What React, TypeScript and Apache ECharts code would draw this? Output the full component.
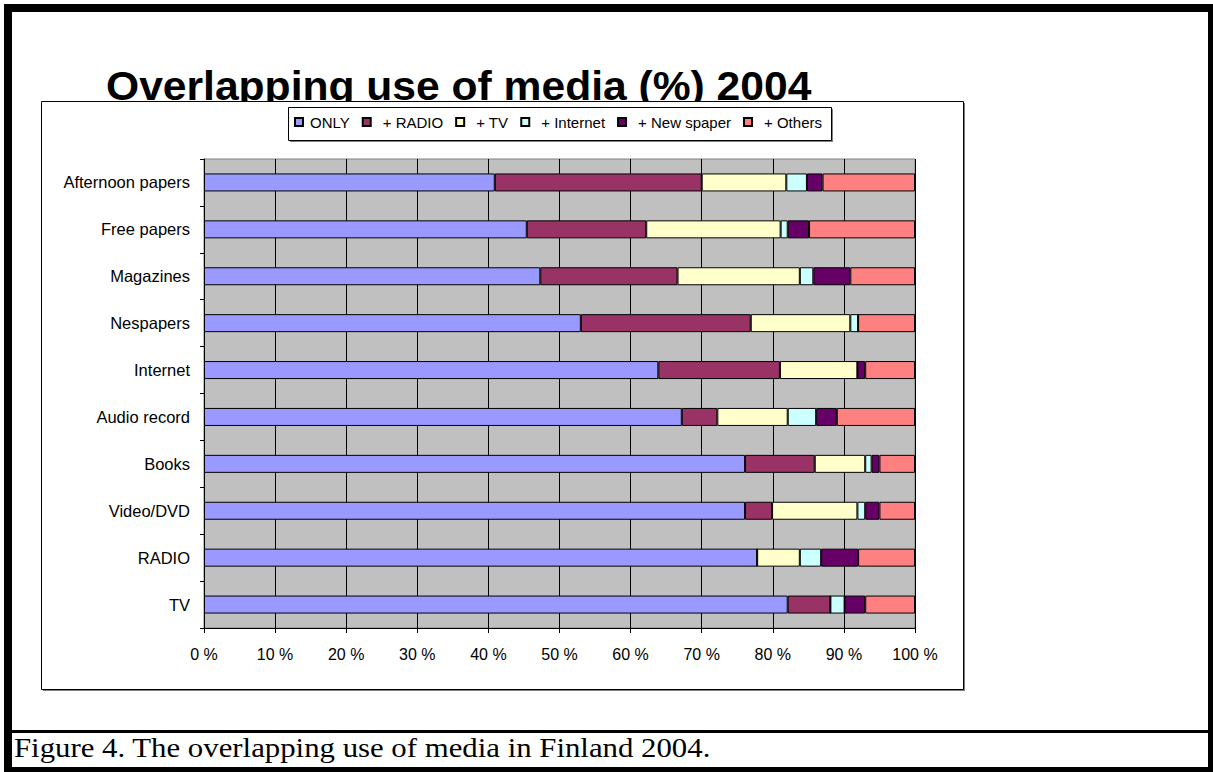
import React, { useEffect, useRef } from "react";
import * as echarts from "echarts";

const categories = [
  "Afternoon papers",
  "Free papers",
  "Magazines",
  "Nespapers",
  "Internet",
  "Audio record",
  "Books",
  "Video/DVD",
  "RADIO",
  "TV",
];
const seriesNames = ["ONLY", "+ RADIO", "+ TV", "+ Internet", "+ New spaper", "+ Others"];
const onlyValues = [40.9, 45.4, 47.3, 53.0, 63.9, 67.2, 76.1, 76.1, 77.8, 82.1];
const radioValues = [29.1, 16.8, 19.3, 23.9, 17.1, 5.0, 9.8, 3.8, 0, 6.0];
const tvValues = [11.9, 18.9, 17.2, 14.0, 10.9, 9.9, 7.1, 12.0, 6.0, 0];
const internetValues = [2.9, 1.0, 1.9, 1.1, 0, 4.0, 0.9, 1.1, 3.0, 2.0];
const newspaperValues = [2.2, 3.0, 5.2, 0, 1.1, 2.9, 1.1, 2.0, 5.2, 2.9];
const othersValues = [13.0, 14.9, 9.1, 8.0, 7.0, 11.0, 5.0, 5.0, 8.0, 7.0];
const colors = ["#9999FF", "#993366", "#FFFFCC", "#CCFFFF", "#660066", "#FF8080"];
const titleText = "Overlapping use of media (%) 2004";
const captionText = "Figure 4. The overlapping use of media in Finland 2004.";

const SANS = '"Liberation Sans", Arial, sans-serif';
const SERIF = '"Liberation Serif", "Times New Roman", serif';

export default function App() {
  const ref = useRef<HTMLDivElement>(null);
  useEffect(() => {
    if (!ref.current) return;
    const chart = echarts.init(ref.current, null, { renderer: "svg" });
    const allValues = [onlyValues, radioValues, tvValues, internetValues, newspaperValues, othersValues];
    const series = seriesNames.map((name, i) => ({
      name,
      type: "bar",
      stack: "total",
      barWidth: 18,
      data: allValues[i],
      itemStyle: { color: colors[i], borderColor: "#000", borderWidth: 1 },
      emphasis: { disabled: true },
    }));
    chart.setOption({
      animation: false,
      backgroundColor: "#fff",
      graphic: [
        // title (partly hidden by chart box)
        {
          type: "text",
          x: 106,
          y: 86,
          scaleX: 1.065,
          z: -30,
          style: {
            text: titleText,
            font: `bold 40px ${SANS}`,
            fill: "#000",
            textAlign: "left",
            textVerticalAlign: "middle",
            verticalAlign: "middle",
          },
        },
        // chart box shadow
        { type: "rect", z: -21, shape: { x: 43, y: 103, width: 922, height: 588 }, style: { fill: "#808080" } },
        // chart box
        {
          type: "rect",
          z: -20,
          shape: { x: 41.5, y: 101.5, width: 922, height: 588 },
          style: { fill: "#fff", stroke: "#000", lineWidth: 1 },
        },
        // legend box shadow + box
        { type: "rect", z: 2, shape: { x: 290, y: 109, width: 543, height: 33 }, style: { fill: "#808080" } },
        {
          type: "rect",
          z: 3,
          shape: { x: 288.5, y: 107.5, width: 543, height: 33 },
          style: { fill: "#fff", stroke: "#000", lineWidth: 1 },
        },
        // outer frame
        { type: "rect", z: -10, shape: { x: 4, y: 4, width: 1209, height: 8 }, style: { fill: "#000" } },
        { type: "rect", z: -10, shape: { x: 4, y: 4, width: 8, height: 768 }, style: { fill: "#000" } },
        { type: "rect", z: -10, shape: { x: 1208, y: 4, width: 5, height: 768 }, style: { fill: "#000" } },
        { type: "rect", z: -10, shape: { x: 4, y: 767, width: 1209, height: 5 }, style: { fill: "#000" } },
        { type: "rect", z: -10, shape: { x: 4, y: 730, width: 1209, height: 3 }, style: { fill: "#000" } },
        // caption
        {
          type: "text",
          x: 14,
          y: 747,
          scaleX: 1.1,
          z: -10,
          style: {
            text: captionText,
            font: `28px ${SERIF}`,
            fill: "#000",
            textAlign: "left",
            textVerticalAlign: "middle",
            verticalAlign: "middle",
          },
        },
      ],
      legend: {
        left: 294,
        top: 114,
        padding: 0,
        itemGap: 12,
        itemWidth: 8,
        itemHeight: 8,
        icon: "rect",
        z: 5,
        selectedMode: false,
        textStyle: { fontFamily: SANS, fontSize: 15, color: "#000", lineHeight: 16 },
        data: seriesNames.map((name, i) => ({
          name,
          textStyle: { padding: [0, 0, 0, i === 0 ? 2 : 7] },
        })),
      },
      grid: {
        left: 204,
        right: 298,
        top: 159,
        bottom: 144,
        show: true,
        backgroundColor: "#C0C0C0",
        borderColor: "#808080",
        borderWidth: 1,
      },
      xAxis: {
        type: "value",
        min: 0,
        max: 100,
        interval: 10,
        axisLine: { show: true, lineStyle: { color: "#000", width: 1 } },
        axisTick: { show: true, length: 5, lineStyle: { color: "#000" } },
        splitLine: { show: true, lineStyle: { color: "#000", width: 1 } },
        axisLabel: {
          formatter: "{value} %",
          fontFamily: SANS,
          fontSize: 16,
          color: "#000",
          margin: 18,
        },
      },
      yAxis: {
        type: "category",
        inverse: true,
        data: categories,
        axisLine: { show: true, lineStyle: { color: "#000", width: 1 } },
        axisTick: { show: true, length: 4, lineStyle: { color: "#000" } },
        splitLine: { show: false },
        axisLabel: { fontFamily: SANS, fontSize: 16.5, color: "#000", margin: 14 },
      },
      tooltip: { show: false },
      series,
    });
    return () => chart.dispose();
  }, []);
  return (
    <div
      ref={ref}
      style={{ position: "absolute", left: 0, top: 0, width: 1213, height: 772 }}
    />
  );
}
